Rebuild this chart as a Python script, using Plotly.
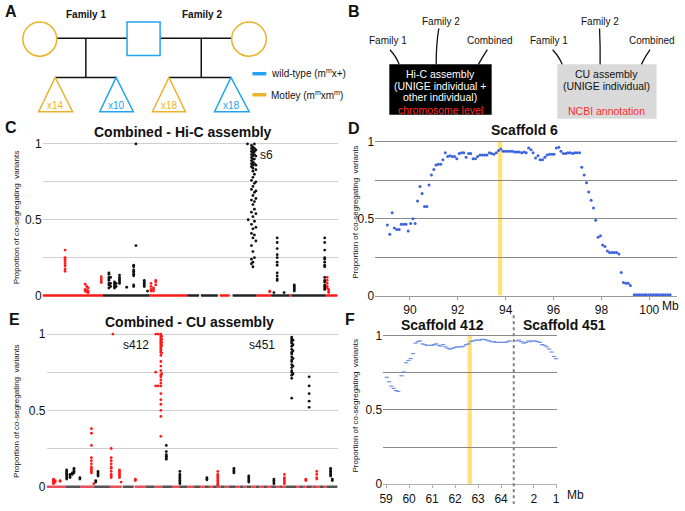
import plotly.graph_objects as go

W, H = 685, 511
def X(px): return px / W
def Y(py): return 1 - py / H

# ---------------- Panel C: Combined - Hi-C assembly ----------------
c_seg_start = [0, 61, 108, 146, 160, 179, 192, 216, 231, 249, 252, 286]
c_seg_end   = [61, 108, 146, 158, 177, 189, 216, 231, 249, 252, 286, 298]
c_seg_color = ['r', 'k', 'r', 'k', 'k', 'r', 'k', 'r', 'k', 'r', 'k', 'r']

c_red_pos = [22.7, 43.0, 44.5, 46.0, 59.3, 109.5, 112.0, 114.3, 229.5, 287.5, 289.0]
c_red_vals = [
    [0.30, 0.25, 0.24, 0.225, 0.21, 0.195, 0.175, 0.16],
    [0.075, 0.04, 0.03], [0.06, 0.035, 0.025], [0.05, 0.03, 0.02],
    [0.125, 0.11, 0.097, 0.086],
    [0.08, 0.06, 0.04, 0.03], [0.05, 0.04, 0.03], [0.10, 0.09, 0.07],
    [0.03, 0.025],
    [0.12, 0.10, 0.08, 0.06, 0.05], [0.04, 0.03, 0.02],
]
c_black_pos = [67.0, 68.7, 72.7, 74.3, 77.7, 85.0, 92.0, 94.3, 102.7, 106.0, 207.0, 207.7,
               211.0, 212.5, 214.0, 215.5, 233.7, 237.0, 244.0, 254.3, 285.0]
c_black_vals = [
    [0.15, 0.14, 0.12, 0.11, 0.10, 0.08, 0.07, 0.05], [0.12, 0.08, 0.06],
    [0.09, 0.08, 0.07, 0.06, 0.05], [0.08, 0.06],
    [0.135, 0.12, 0.11, 0.10, 0.09, 0.08], [0.055],
    [0.20, 0.19, 0.17, 0.16, 0.15, 0.14, 0.13, 0.07, 0.06], [1.0, 0.33],
    [0.10, 0.09, 0.08, 0.07, 0.06], [0.03], [1.0], [0.5],
    [0.99, 0.97, 0.95, 0.93, 0.91, 0.89, 0.87, 0.85, 0.76, 0.70, 0.63, 0.55, 0.47, 0.41, 0.33, 0.24, 0.21],
    [0.98, 0.96, 0.94, 0.92, 0.90, 0.88, 0.86, 0.84, 0.82, 0.78, 0.72, 0.66, 0.60, 0.52, 0.44, 0.38, 0.29, 0.22, 0.19],
    [1.0, 0.97, 0.95, 0.93, 0.90, 0.87, 0.80, 0.74, 0.68, 0.62, 0.57, 0.49, 0.40, 0.25],
    [0.96, 0.92, 0.86, 0.83, 0.75, 0.69, 0.64, 0.54, 0.45, 0.36],
    [0.02], [0.38, 0.35, 0.31, 0.27, 0.25, 0.22, 0.20, 0.15, 0.13, 0.11, 0.10], [0.02],
    [0.07, 0.06, 0.05, 0.04, 0.03],
    [0.38, 0.35, 0.30, 0.25, 0.24, 0.22, 0.20, 0.19, 0.12, 0.10, 0.09, 0.07, 0.06, 0.05, 0.04],
]

# ---------------- Panel D: Scaffold 6 ----------------
d_mb = [89.06, 89.16, 89.26, 89.35, 89.45, 89.55, 89.64, 89.74, 89.84, 89.93, 90.03, 90.13,
        90.22, 90.32, 90.42, 90.51, 90.61, 90.71, 90.80, 90.90, 91.00, 91.09, 91.19, 91.29,
        91.38, 91.48, 91.58, 91.67, 91.77, 91.87, 91.96, 92.06, 92.16, 92.25, 92.35, 92.45,
        92.54, 92.64, 92.74, 92.83, 92.93, 93.03, 93.12, 93.22, 93.32, 93.41, 93.51, 93.61,
        93.70, 93.80, 93.90, 93.99, 94.09, 94.19, 94.28, 94.38, 94.48, 94.57, 94.67, 94.77,
        94.86, 94.96, 95.06, 95.15, 95.25, 95.35, 95.44, 95.54, 95.64, 95.73, 95.83, 95.93,
        96.02, 96.12, 96.22, 96.31, 96.41, 96.51, 96.60, 96.70, 96.80, 96.89, 96.99, 97.09,
        97.18, 97.28, 97.38, 97.47, 97.57, 97.67, 97.76, 97.86, 97.96, 98.05, 98.15, 98.25,
        98.34, 98.44, 98.54, 98.63, 98.73, 98.83, 98.92, 99.02, 99.12, 99.21,
        99.37, 99.47, 99.57, 99.67, 99.77, 99.87, 99.97, 100.07, 100.17, 100.27, 100.37,
        100.47, 100.57, 100.67, 100.77, 100.87]
d_prop = [0.46, 0.40, 0.54, 0.44, 0.43, 0.43, 0.465, 0.465, 0.465, 0.42, 0.47, 0.50,
          0.47, 0.615, 0.71, 0.665, 0.58, 0.58, 0.72, 0.785, 0.82, 0.85, 0.855, 0.855,
          0.885, 0.93, 0.905, 0.91, 0.905, 0.905, 0.89, 0.925, 0.93, 0.93, 0.90, 0.925,
          0.925, 0.89, 0.89, 0.905, 0.915, 0.915, 0.915, 0.915, 0.93, 0.925, 0.92, 0.93,
          0.945, 0.955, 0.94, 0.94, 0.94, 0.94, 0.94, 0.935, 0.935, 0.935, 0.93, 0.935,
          0.93, 0.96, 0.95, 0.93, 0.895, 0.91, 0.885, 0.885, 0.90, 0.915, 0.92, 0.92,
          0.92, 0.96, 0.965, 0.94, 0.925, 0.925, 0.93, 0.93, 0.925, 0.93, 0.93, 0.93,
          0.835, 0.785, 0.735, 0.675, 0.62, 0.57, 0.49, 0.38, 0.39, 0.33, 0.32, 0.29,
          0.28, 0.28, 0.28, 0.28, 0.27, 0.15, 0.085, 0.08, 0.08, 0.065,
          0.005, 0.005, 0.005, 0.005, 0.005, 0.005, 0.005, 0.005, 0.005, 0.005, 0.005,
          0.005, 0.005, 0.005, 0.005, 0.005]
d_ticks = [90, 92, 94, 96, 98, 100]

# ---------------- Panel E: Combined - CU assembly ----------------
e_seg_start = [0, 19, 34, 48, 64, 77, 89, 100, 109, 117, 127, 134, 142, 149, 155, 160, 164, 168,
               172, 176, 180, 184, 191, 195, 199, 202, 207, 211, 215, 219, 223, 227, 232, 236,
               238, 242, 252, 256, 259, 263, 268, 270, 272, 276, 280, 283]
e_seg_end   = [19, 34, 48, 64, 76, 88, 100, 109, 117, 127, 134, 142, 149, 155, 160, 164, 168, 172,
               176, 180, 184, 191, 195, 199, 202, 207, 211, 215, 219, 223, 227, 232, 236, 238,
               242, 252, 256, 259, 263, 268, 270, 272, 276, 280, 283, 294]
e_seg_color = ['r', 'k'] * 23

e_red_pos = [7.0, 8.7, 13.7, 45.3, 47.7, 65.3, 67.0, 73.7, 75.3, 89.7, 110.3, 112.7, 115.5,
             116.3, 173.0, 240.3, 262.0, 273.0]
e_red_vals = [
    [0.05, 0.045, 0.04, 0.035, 0.03, 0.025, 0.02], [0.04, 0.03], [0.04, 0.035],
    [0.38, 0.35, 0.27, 0.19, 0.17, 0.15, 0.13, 0.12, 0.11, 0.10, 0.09], [0.02],
    [0.25, 0.19, 0.17, 0.15, 0.13, 0.12, 0.10, 0.08, 0.07, 0.06], [1.0],
    [0.11, 0.10, 0.09, 0.08, 0.07, 0.06], [0.03], [0.05, 0.045, 0.04],
    [1.0, 0.75, 0.66], [1.0, 0.66],
    [1.0, 0.99, 0.98, 0.97, 0.96, 0.95, 0.94, 0.93, 0.92, 0.91, 0.90, 0.89, 0.88, 0.86, 0.82,
     0.79, 0.76, 0.73, 0.72, 0.70, 0.68, 0.66, 0.61, 0.57, 0.54, 0.50, 0.46, 0.33],
    [0.985, 0.965, 0.945, 0.925, 0.875, 0.74],
    [0.10, 0.08, 0.07, 0.06, 0.05, 0.04, 0.03, 0.02, 0.01],
    [0.08, 0.06, 0.05, 0.04, 0.03, 0.02], [0.05, 0.045, 0.04], [0.10, 0.08, 0.06, 0.05],
]
e_black_pos = [20.3, 23.7, 26.0, 27.7, 33.7, 49.7, 52.0, 121.0, 134.7, 162.0, 189.3, 204.3,
               229.7, 247.7, 249.0, 265.3, 287.0, 288.7]
e_black_vals = [
    [0.11, 0.10, 0.09, 0.08, 0.07, 0.06, 0.05], [0.08, 0.07, 0.06], [0.09, 0.08],
    [0.12, 0.11, 0.10, 0.09], [0.06, 0.05], [0.04, 0.03], [0.10, 0.09, 0.08, 0.07],
    [0.27, 0.23, 0.21, 0.20, 0.19, 0.18], [0.10, 0.08, 0.07, 0.06, 0.05, 0.04, 0.03, 0.02],
    [0.06, 0.05, 0.045], [0.12, 0.11, 0.10, 0.09], [0.07, 0.06, 0.05, 0.04, 0.03],
    [0.05, 0.04, 0.03, 0.02],
    [0.98, 0.97, 0.96, 0.95, 0.94, 0.92, 0.90, 0.88, 0.87, 0.85, 0.83, 0.82, 0.80, 0.78,
     0.76, 0.75, 0.73, 0.71, 0.58],
    [0.96, 0.93, 0.89, 0.84, 0.79, 0.74],
    [0.72, 0.66, 0.61, 0.56, 0.52], [0.12, 0.11, 0.10, 0.09, 0.08, 0.07], [0.05, 0.04],
]

# ---------------- Panel F: Scaffold 412 / 451 ----------------
f412_mb = [59.03, 59.13, 59.23, 59.33, 59.43, 59.53, 59.67, 59.77, 59.87, 59.97, 60.07, 60.17,
           60.28, 60.38, 60.48, 60.58, 60.68, 60.78, 60.88, 60.98, 61.08, 61.18, 61.28, 61.38,
           61.48, 61.58, 61.68, 61.78, 61.88, 61.98, 62.08, 62.18, 62.28, 62.38, 62.48, 62.58,
           62.68, 62.78, 62.88, 62.98, 63.08, 63.18, 63.28, 63.38, 63.48, 63.58, 63.68, 63.78,
           63.88, 63.98, 64.08, 64.18, 64.28, 64.38]
f412_prop = [0.72, 0.69, 0.66, 0.645, 0.63, 0.625, 0.73, 0.756, 0.818, 0.833, 0.846, 0.879,
             0.95, 0.96, 0.965, 0.945, 0.94, 0.935, 0.935, 0.935, 0.94, 0.945, 0.935, 0.93,
             0.94, 0.925, 0.915, 0.91, 0.915, 0.92, 0.925, 0.925, 0.925, 0.93, 0.94, 0.945,
             0.96, 0.965, 0.97, 0.97, 0.97, 0.975, 0.975, 0.97, 0.965, 0.96, 0.96, 0.955,
             0.955, 0.955, 0.955, 0.955, 0.96, 0.965]
f451_mb = [2.78, 2.67, 2.57, 2.46, 2.36, 2.25, 2.15, 2.05, 1.94, 1.84, 1.73, 1.63, 1.52, 1.42,
           1.31, 1.21, 1.10, 1.00]
f451_prop = [0.965, 0.97, 0.96, 0.95, 0.955, 0.965, 0.96, 0.965, 0.965, 0.96, 0.955, 0.94,
             0.935, 0.925, 0.91, 0.89, 0.86, 0.845]
f412_ticks = [59, 60, 61, 62, 63, 64]
f451_ticks = [2, 1]

RED = '#ff1a1a'
BLACK = '#111111'
BLUE_D = '#3b63dd'
BLUE_F = '#6f90e6'
GOLD = '#EBB22C'
SKY = '#22A4F2'

def flat(pos, vals):
    xs, ys = [], []
    for p, v in zip(pos, vals):
        xs += [p] * len(v)
        ys += v
    return xs, ys

def seg_trace(starts, ends, colors, which, color, xa, ya, width):
    xs, ys = [], []
    for s, e, c in zip(starts, ends, colors):
        if c == which:
            xs += [s, e, None]
            ys += [0, 0, None]
    return go.Scatter(x=xs, y=ys, mode='lines', line=dict(color=color, width=width),
                      xaxis=xa, yaxis=ya, hoverinfo='skip', showlegend=False)

def pts(xs, ys, color, xa, ya, size=3, symbol='circle', lw=0):
    return go.Scatter(x=xs, y=ys, mode='markers', xaxis=xa, yaxis=ya, cliponaxis=False,
                      marker=dict(color=color, size=size, symbol=symbol,
                                  line=dict(width=lw, color=color)),
                      hoverinfo='skip', showlegend=False)

fig = go.Figure()
fig.add_trace(seg_trace(c_seg_start, c_seg_end, c_seg_color, 'r', RED, 'x', 'y', 2.5))
fig.add_trace(seg_trace(c_seg_start, c_seg_end, c_seg_color, 'k', '#222', 'x', 'y', 2.5))
fig.add_trace(pts(*flat(c_red_pos, c_red_vals), RED, 'x', 'y', 2.8))
fig.add_trace(pts(*flat(c_black_pos, c_black_vals), BLACK, 'x', 'y', 2.8))
fig.add_trace(pts(d_mb, d_prop, BLUE_D, 'x2', 'y2', 3))
fig.add_trace(seg_trace(e_seg_start, e_seg_end, e_seg_color, 'r', '#e8505c', 'x3', 'y3', 2.5))
fig.add_trace(seg_trace(e_seg_start, e_seg_end, e_seg_color, 'k', '#555', 'x3', 'y3', 2.5))
fig.add_trace(pts(*flat(e_red_pos, e_red_vals), RED, 'x3', 'y3', 2.8))
fig.add_trace(pts(*flat(e_black_pos, e_black_vals), BLACK, 'x3', 'y3', 2.8))
fig.add_trace(pts(f412_mb, f412_prop, BLUE_F, 'x4', 'y4', 3, 'line-ew', 1.2))
fig.add_trace(pts(f451_mb, f451_prop, BLUE_F, 'x5', 'y5', 3, 'line-ew', 1.2))

yt = [0, 0.5, 1]
ytt = ['0', '0.5', '1']
tickfont = dict(size=12, color='#111')

def ydom(py0, py1, lo, hi):
    per = py0 - py1
    bottom = py0 + (0 - lo) * per
    top = py1 - (hi - 1) * per
    return [Y(bottom), Y(top)]

def yaxis_cfg(dom, rng, gridcolor, labels=True, anchor='x'):
    return dict(domain=dom, range=rng, tickvals=yt, ticktext=ytt, showticklabels=labels,
                showgrid=True, gridcolor=gridcolor, gridwidth=1, zeroline=False, ticks='',
                tickfont=tickfont, anchor=anchor,
                minor=dict(tickvals=[0.25, 0.75], showgrid=True, gridcolor=gridcolor,
                           gridwidth=1, ticks=''))

layout = dict(
    width=W, height=H, margin=dict(l=0, r=0, t=0, b=0),
    paper_bgcolor='white', plot_bgcolor='rgba(0,0,0,0)',
    font=dict(family='Liberation Sans, Arial, sans-serif', size=12, color='#111'),
    showlegend=False,
    xaxis=dict(domain=[X(39), X(337)], range=[0, 298], showgrid=False, zeroline=False,
               showticklabels=False, ticks='', showline=False, anchor='y'),
    yaxis=yaxis_cfg(ydom(298, 143, -0.02, 1.02), [-0.02, 1.02], '#cfcfcf', anchor='x'),
    xaxis2=dict(domain=[X(375), X(680)], range=[88.55, 101.16], tickvals=d_ticks, showgrid=False,
                zeroline=False, showline=True, linecolor='#9a9a9a', linewidth=1, ticks='outside',
                ticklen=3, tickcolor='#9a9a9a', tickfont=tickfont, anchor='y2'),
    yaxis2=yaxis_cfg(ydom(298, 141, 0, 1.02), [0, 1.02], '#8a8a8a', anchor='x2'),
    xaxis3=dict(domain=[X(43), X(337)], range=[0, 294], showgrid=False, zeroline=False,
                showticklabels=False, ticks='', showline=False, anchor='y3'),
    yaxis3=yaxis_cfg(ydom(493.3, 337.3, -0.02, 1.02), [-0.02, 1.02], '#cfcfcf', anchor='x3'),
    xaxis4=dict(domain=[X(383), X(515)], range=[58.87, 64.55], tickvals=f412_ticks, showgrid=False,
                zeroline=False, showline=True, linecolor='#b0b0b0', linewidth=1, ticks='outside',
                ticklen=3, tickcolor='#b0b0b0', tickfont=tickfont, anchor='y4'),
    yaxis4=yaxis_cfg(ydom(490.7, 339, 0, 1.02), [0, 1.02], '#8a8a8a', anchor='x4'),
    xaxis5=dict(domain=[X(515), X(559)], range=[2.9, 0.95], tickvals=f451_ticks, showgrid=False,
                zeroline=False, showline=True, linecolor='#b0b0b0', linewidth=1, ticks='outside',
                ticklen=3, tickcolor='#b0b0b0', tickfont=tickfont, anchor='y5'),
    yaxis5=yaxis_cfg(ydom(490.7, 339, 0, 1.02), [0, 1.02], '#8a8a8a', labels=False, anchor='x5'),
)
fig.update_layout(**layout)

shapes = []
def pline(x0, y0, x1, y1, color='#111', width=1.5, dash=None):
    d = dict(type='line', xref='paper', yref='paper', x0=X(x0), y0=Y(y0), x1=X(x1), y1=Y(y1),
             line=dict(color=color, width=width))
    if dash:
        d['line']['dash'] = dash
    shapes.append(d)

def ppath(points, color, width=1.5):
    s = 'M ' + ' L '.join(f'{X(a):.5f},{Y(b):.5f}' for a, b in points) + ' Z'
    shapes.append(dict(type='path', xref='paper', yref='paper', path=s,
                       line=dict(color=color, width=width), fillcolor='rgba(0,0,0,0)'))

def pcurve(p0, pc, p1, color='#111', width=1.3):
    s = (f'M {X(p0[0]):.5f},{Y(p0[1]):.5f} Q {X(pc[0]):.5f},{Y(pc[1]):.5f} '
         f'{X(p1[0]):.5f},{Y(p1[1]):.5f}')
    shapes.append(dict(type='path', xref='paper', yref='paper', path=s,
                       line=dict(color=color, width=width)))

def prect(x0, y0, x1, y1, fill):
    shapes.append(dict(type='rect', xref='paper', yref='paper', x0=X(x0), x1=X(x1),
                       y0=Y(y1), y1=Y(y0), fillcolor=fill, line=dict(width=0)))

# ---- Panel A pedigree ----
pline(53.3, 35, 124.3, 35)
pline(157.7, 35, 230, 35)
pline(82.7, 35, 82.7, 75)
pline(199.3, 35, 199.3, 75)
pline(51.7, 75, 113.3, 75)
pline(166.7, 75, 229.3, 75)
shapes.append(dict(type='circle', xref='paper', yref='paper', x0=X(19), x1=X(53.3),
                   y0=Y(53.3), y1=Y(18.3), line=dict(color=GOLD, width=1.5)))
shapes.append(dict(type='circle', xref='paper', yref='paper', x0=X(230), x1=X(265),
                   y0=Y(53.3), y1=Y(18.3), line=dict(color=GOLD, width=1.5)))
shapes.append(dict(type='rect', xref='paper', yref='paper', x0=X(124.3), x1=X(157.7),
                   y0=Y(52.7), y1=Y(18.3), line=dict(color=SKY, width=1.5)))
ppath([(51.7, 75), (35, 110), (69.3, 110)], GOLD)
ppath([(113.3, 75), (96.7, 110), (130.7, 110)], SKY)
ppath([(166.7, 75), (150, 110), (183.3, 110)], GOLD)
ppath([(229.3, 75), (212.7, 110), (247.7, 110)], SKY)
prect(251, 69.5, 265, 73, SKY)
prect(251, 91, 265, 94.5, GOLD)

# ---- Panel B ----
prect(389.3, 61.7, 492.7, 113.3, '#000000')
prect(559, 61.7, 659.3, 117.3, '#d9d9d9')
pcurve((390, 46.7), (396.5, 54), (399.3, 61.7))
pcurve((439.3, 25), (436.5, 42), (436.7, 61.7))
pcurve((488.3, 46.7), (483, 55), (479.3, 61.7))
pcurve((554.3, 46.7), (561, 54), (564, 61.7))
pcurve((601.7, 25), (602.5, 42), (602.3, 61.7))
pcurve((652.7, 46.7), (647, 55), (644, 61.7))

# ---- yellow bands and dotted separator ----
shapes.append(dict(type='rect', xref='x2', yref='y2', x0=93.68, x1=93.86, y0=0, y1=1,
                   fillcolor='#FFE27A', line=dict(width=0), layer='below'))
shapes.append(dict(type='rect', xref='x4', yref='y4', x0=62.54, x1=62.73, y0=0, y1=1,
                   fillcolor='#FFE27A', line=dict(width=0), layer='below'))
pline(515, 318, 515, 511, color='#808080', width=2, dash='dot')

fig.update_layout(shapes=shapes)

anns = []
def txt(px, py, s, size=12, color='#111', bold=False, xanchor='center', angle=0):
    anns.append(dict(x=X(px), y=Y(py), xref='paper', yref='paper', showarrow=False,
                     text=f'<b>{s}</b>' if bold else s, textangle=angle,
                     font=dict(size=size, color=color), xanchor=xanchor, yanchor='middle'))

txt(7, 8, 'A', 16, bold=True)
txt(354, 8, 'B', 16, bold=True)
txt(7, 126, 'C', 16, bold=True)
txt(354, 127, 'D', 16, bold=True)
txt(11, 322, 'E', 16, bold=True)
txt(350, 322, 'F', 16, bold=True)

txt(83, 11, 'Family 1', 10, bold=True)
txt(200, 11, 'Family 2', 10, bold=True)
txt(52, 104, 'x14', 10, GOLD)
txt(113.5, 104, 'x10', 10, SKY)
txt(167, 104, 'x18', 10, GOLD)
txt(230, 104, 'x18', 10, SKY)
txt(268, 71, 'wild-type (m<sup>m</sup>x+)', 10, xanchor='left')
txt(268, 92.5, 'Motley (m<sup>m</sup>xm<sup>m</sup>)', 10, xanchor='left')

txt(387.5, 37.5, 'Family 1', 10)
txt(442, 17.5, 'Family 2', 10)
txt(491, 37.5, 'Combined', 10)
txt(551, 37.5, 'Family 1', 10)
txt(602, 17.5, 'Family 2', 10)
txt(654.5, 37.5, 'Combined', 10)
txt(441, 71.7, 'Hi-C assembly', 10.5, 'white')
txt(441, 83.3, '(UNIGE individual +', 10.5, 'white')
txt(441, 95.5, 'other individual)', 10.5, 'white')
txt(441, 108, 'chromosome level', 10.5, '#ff2a2a')
txt(609, 71.7, 'CU assembly', 10.5)
txt(609, 83.3, '(UNIGE individual)', 10.5)
txt(609, 109, 'NCBI annotation', 10.5, '#ff2a2a')

txt(181, 131, 'Combined - Hi-C assembly', 14, bold=True)
txt(526, 129, 'Scaffold 6', 14, bold=True)
txt(187, 325, 'Combined - CU assembly', 14, bold=True)
txt(443, 328, 'Scaffold 412', 14, bold=True)
txt(566, 328, 'Scaffold 451', 14, bold=True)

txt(265, 154, 's6', 12)
txt(133, 348, 's412', 12)
txt(261, 348, 's451', 12)

txt(673, 309, 'Mb', 12)
txt(577, 502, 'Mb', 12)

ylab = 'Proportion of co-segregating  variants'
txt(12, 218, ylab, 8, angle=-90)
txt(355, 213, ylab, 8, angle=-90)
txt(12, 416, ylab, 8, angle=-90)
txt(355, 411, ylab, 8, angle=-90)

fig.update_layout(annotations=anns)
fig.write_html('out.html', config={'displayModeBar': False},
               post_script="document.body.style.margin='0';document.body.style.overflow='hidden';")
